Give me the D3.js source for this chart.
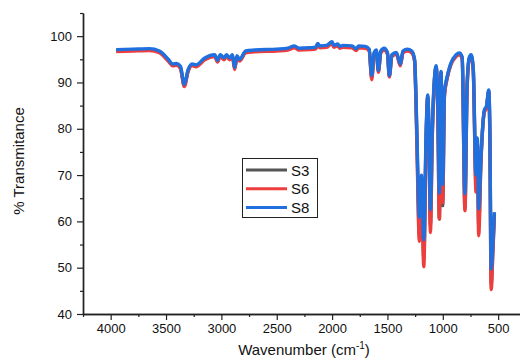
<!DOCTYPE html>
<html>
<head>
<meta charset="utf-8">
<script src="https://cdn.jsdelivr.net/npm/d3@7"></script>
<style>
  body { margin: 0; background: #fff; }
  text { font-family: "Liberation Sans", Arial, sans-serif; fill: #111; }
</style>
</head>
<body>
<script>
// wavenumbers (cm-1), high -> low
const wavenumbers = [3950, 3800, 3650, 3560, 3480, 3440, 3405, 3370, 3335, 3300, 3265, 3230, 3150, 3060, 3035, 3010,
  2975, 2955, 2925, 2900, 2880, 2860, 2836, 2780, 2700, 2500, 2400, 2340, 2300, 2200, 2150, 2130, 2110, 2050, 2000,
  1985, 1949, 1930, 1900, 1820, 1783, 1760, 1700, 1665, 1642, 1620, 1600, 1582, 1560, 1530, 1500, 1483, 1460, 1420,
  1383, 1360, 1320, 1280, 1255, 1240, 1230, 1212, 1192, 1172, 1150, 1136, 1125, 1112, 1095, 1060, 1045, 1031, 1016,
  1001, 985, 960, 930, 880, 850, 825, 800, 780, 760, 744, 725, 700, 688, 676, 655, 625, 605, 585, 575, 563, 548, 534];

const s8 = [97.1, 97.2, 97.3, 96.8, 95.0, 94.0, 94.1, 93.5, 89.6, 92.8, 94.0, 93.8, 95.3, 96.0, 94.8, 96.0,
  95.3, 96.0, 95.3, 96.0, 93.2, 95.8, 95.0, 96.8, 97.0, 97.2, 97.4, 97.9, 97.4, 97.5, 97.6, 98.4, 97.9, 98.0, 98.8,
  98.0, 98.3, 97.8, 98.0, 97.9, 97.3, 97.9, 97.8, 97.2, 91.5, 96.5, 97.0, 92.6, 96.8, 97.4, 96.5, 91.5, 96.0, 96.5,
  94.0, 96.8, 97.2, 96.8, 95.0, 85.0, 75.0, 60.9, 70.0, 56.0, 80.0, 87.3, 80.0, 62.5, 80.0, 93.6, 85.0, 66.1, 92.4,
  68.0, 88.0, 91.3, 94.0, 96.0, 96.4, 95.5, 66.0, 90.0, 95.5, 96.0, 93.0, 70.0, 78.0, 62.7, 74.0, 84.0, 85.0, 88.4, 80.0, 49.7, 55.0, 62.0];

const s6 = [96.7, 96.8, 96.9, 96.4, 94.6, 93.6, 93.7, 93.0, 89.1, 92.4, 93.6, 93.4, 94.9, 95.6, 94.4, 95.6,
  94.9, 95.6, 94.9, 95.6, 92.8, 95.4, 94.6, 96.4, 96.6, 96.8, 97.0, 97.5, 97.0, 97.1, 97.2, 98.0, 97.5, 97.6, 98.4,
  97.6, 97.9, 97.4, 97.6, 97.5, 96.9, 97.5, 97.4, 96.8, 90.6, 96.1, 96.6, 92.2, 96.4, 97.0, 96.1, 91.2, 95.6, 96.1,
  93.6, 96.4, 96.8, 96.4, 94.6, 83.0, 72.0, 55.7, 68.0, 50.2, 78.0, 86.8, 78.0, 57.6, 78.0, 93.2, 83.0, 60.5, 92.0,
  64.0, 87.0, 90.9, 93.6, 95.6, 96.0, 95.1, 62.3, 89.0, 95.1, 95.6, 92.6, 66.3, 77.0, 56.9, 73.0, 83.5, 84.5, 88.0, 78.0, 45.3, 53.0, 61.0];

const s3 = [96.9, 97.0, 97.1, 96.6, 94.8, 93.8, 93.9, 93.2, 89.3, 92.6, 93.8, 93.6, 95.1, 95.8, 94.6, 95.8,
  95.1, 95.8, 95.1, 95.8, 93.0, 95.6, 94.8, 96.6, 96.8, 97.0, 97.2, 97.7, 97.2, 97.3, 97.4, 98.2, 97.7, 97.8, 98.6,
  97.8, 98.1, 97.6, 97.8, 97.7, 97.1, 97.7, 97.6, 97.0, 91.0, 96.3, 96.8, 92.4, 96.6, 97.2, 96.3, 91.3, 95.8, 96.3,
  93.8, 96.6, 97.0, 96.6, 94.8, 84.0, 73.5, 57.0, 69.0, 52.0, 79.0, 87.0, 79.0, 59.0, 79.0, 93.4, 84.0, 60.5, 92.2,
  63.4, 87.5, 91.1, 93.8, 95.8, 96.2, 95.3, 63.0, 89.5, 95.3, 95.8, 92.8, 68.0, 77.5, 59.0, 73.5, 83.8, 84.8, 88.2, 79.0, 46.5, 54.0, 61.5];

const seriesNames = ["S3", "S6", "S8"];
const seriesColors = ["#555555", "#ee3d3d", "#1f6fde"];
const seriesValues = [s3, s6, s8];

const yTicks = [40, 50, 60, 70, 80, 90, 100];
const yMinor = [45, 55, 65, 75, 85, 95, 105];
const xTicks = [4000, 3500, 3000, 2500, 2000, 1500, 1000, 500];
const xMinor = [4250, 3750, 3250, 2750, 2250, 1750, 1250, 750];

var width = 520, height = 359;

var svg = d3.select("body").append("svg")
    .attr("width", width)
    .attr("height", height);

var x = d3.scaleLinear().domain([4250, 300]).range([83, 520.3]);
var y = d3.scaleLinear().domain([40, 105]).range([314, 13]);

// spectra
var line = d3.line()
    .x(d => x(d[0]))
    .y(d => y(d[1]))
    .curve(d3.curveMonotoneX);

seriesValues.forEach(function (vals, i) {
    svg.append("path")
        .datum(wavenumbers.map((w, j) => [w, vals[j]]))
        .attr("fill", "none")
        .attr("stroke", seriesColors[i])
        .attr("stroke-width", 3.4)
        .attr("stroke-linejoin", "round")
        .attr("d", line);
});

// axes
svg.append("g")
    .attr("transform", "translate(0,314)")
    .call(d3.axisBottom(x).tickValues(xTicks).tickFormat(d3.format("d")).tickSize(6).tickSizeOuter(0).tickPadding(4));
svg.append("g")
    .attr("transform", "translate(0,314)")
    .call(d3.axisBottom(x).tickValues(xMinor).tickSize(3).tickSizeOuter(0).tickFormat(""));

svg.append("g")
    .attr("transform", "translate(83,0)")
    .call(d3.axisLeft(y).tickValues(yTicks).tickFormat(d3.format("d")).tickSize(6).tickSizeOuter(0).tickPadding(5));
svg.append("g")
    .attr("transform", "translate(83,0)")
    .call(d3.axisLeft(y).tickValues(yMinor).tickSize(3).tickSizeOuter(0).tickFormat(""));

svg.selectAll(".domain").attr("stroke", "#222").attr("stroke-width", 1.4);
svg.selectAll(".tick line").attr("stroke", "#222").attr("stroke-width", 1.2);
svg.selectAll(".tick text").style("font-size", "13px").attr("fill", "#111");

// axis titles
svg.append("text")
    .attr("transform", "translate(24,161) rotate(-90)")
    .attr("text-anchor", "middle")
    .style("font-size", "15px")
    .text("% Transmitance");

var xt = svg.append("text")
    .attr("x", 304)
    .attr("y", 355)
    .attr("text-anchor", "middle")
    .style("font-size", "15px");
xt.append("tspan").text("Wavenumber (cm");
xt.append("tspan").attr("dy", -6).style("font-size", "10px").text("-1");
xt.append("tspan").attr("dy", 6).text(")");

// legend
var legend = svg.append("g");
legend.append("rect")
    .attr("x", 242.5).attr("y", 158.5)
    .attr("width", 75).attr("height", 59)
    .attr("fill", "#fff")
    .attr("stroke", "#222")
    .attr("stroke-width", 1);

seriesNames.forEach(function (name, i) {
    var ly = 170 + i * 18.7;
    legend.append("line")
        .attr("x1", 246).attr("x2", 287)
        .attr("y1", ly).attr("y2", ly)
        .attr("stroke", seriesColors[i])
        .attr("stroke-width", 3);
    legend.append("text")
        .attr("x", 291).attr("y", ly + 5.5)
        .style("font-size", "15px")
        .text(name);
});
</script>
</body>
</html>
